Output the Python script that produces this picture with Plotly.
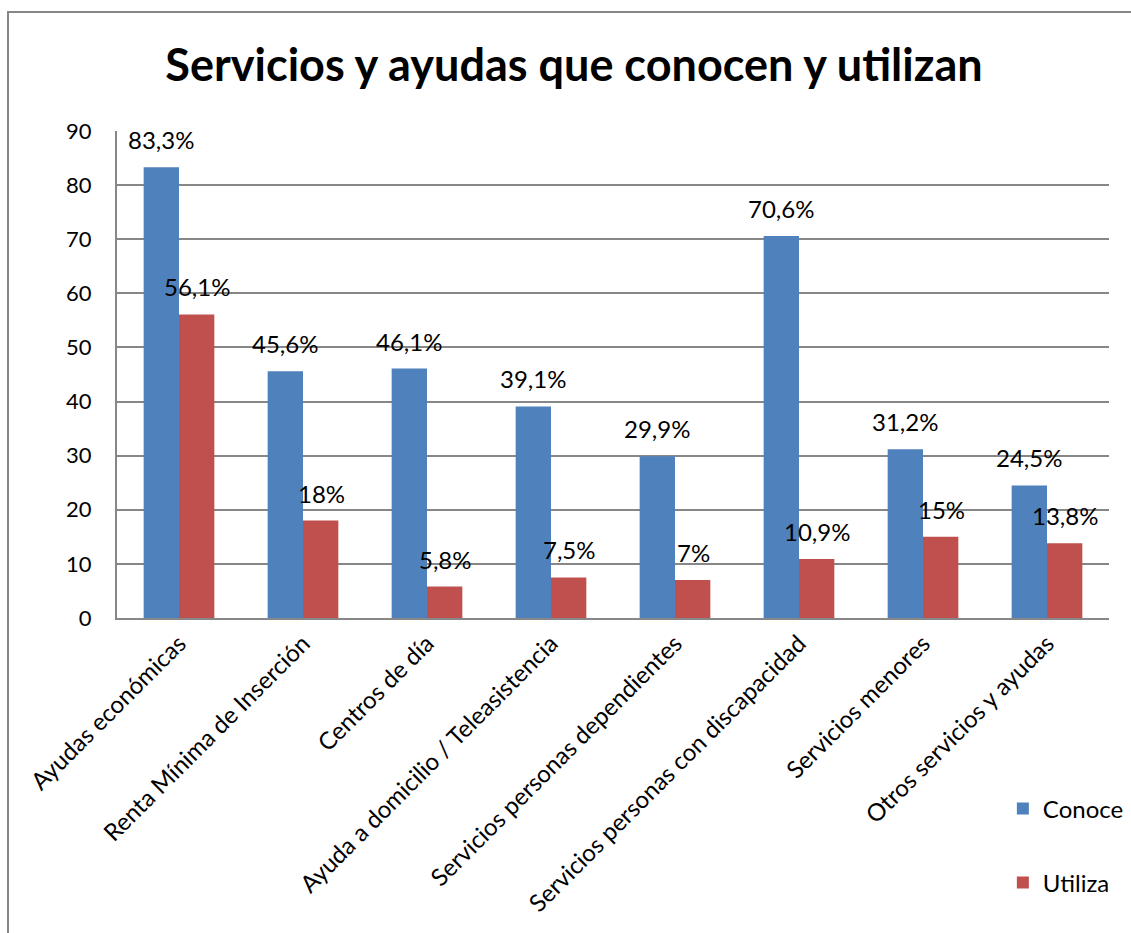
import plotly.graph_objects as go

categories = ["Ayudas económicas", "Renta Mínima de Inserción", "Centros de día",
              "Ayuda a domicilio / Teleasistencia", "Servicios personas dependientes",
              "Servicios personas con discapacidad", "Servicios menores",
              "Otros servicios y ayudas"]
conoce = [83.3, 45.6, 46.1, 39.1, 29.9, 70.6, 31.2, 24.5]
utiliza = [56.1, 18, 5.8, 7.5, 7, 10.9, 15, 13.8]
conoce_labels = ["83,3%", "45,6%", "46,1%", "39,1%", "29,9%", "70,6%", "31,2%", "24,5%"]
utiliza_labels = ["56,1%", "18%", "5,8%", "7,5%", "7%", "10,9%", "15%", "13,8%"]
y_ticks = [0, 10, 20, 30, 40, 50, 60, 70, 80, 90]

FONT = "Lato"
BLUE = "#4F81BD"
RED = "#C0504D"
GRID = "#878787"

fig = go.Figure()
fig.add_trace(go.Bar(x=categories, y=conoce, name="Conoce", marker_color=BLUE,
                     marker_line_width=0, legend="legend", showlegend=True))
fig.add_trace(go.Bar(x=categories, y=utiliza, name="Utiliza", marker_color=RED,
                     marker_line_width=0, legend="legend2", showlegend=True))

annotations = []
for c, v, t in zip(categories, conoce, conoce_labels):
    annotations.append(dict(x=c, y=v, text=t, xref="x", yref="y", showarrow=False,
                            xshift=-18, yshift=11, yanchor="bottom",
                            font=dict(family=FONT, size=24, color="black")))
for c, v, t in zip(categories, utiliza, utiliza_labels):
    annotations.append(dict(x=c, y=v, text=t, xref="x", yref="y", showarrow=False,
                            xshift=18, yshift=11, yanchor="bottom",
                            font=dict(family=FONT, size=24, color="black")))

fig.update_layout(
    width=1131, height=933,
    margin=dict(l=117, r=22, t=131, b=315, autoexpand=False),
    paper_bgcolor="white", plot_bgcolor="white",
    showlegend=True,
    font=dict(family=FONT, size=20, color="black"),
    title=dict(text="<b>Servicios y ayudas que conocen y utilizan</b>",
               x=574 / 1131, xanchor="center", y=1 - 65 / 933, yanchor="middle",
               font=dict(family=FONT, size=45, color="black")),
    barmode="group", bargap=0.43, bargroupgap=0,
    annotations=annotations,
    legend=dict(x=0.893, xanchor="left", y=-0.392, yanchor="middle",
                font=dict(family=FONT, size=24), bgcolor="rgba(0,0,0,0)"),
    legend2=dict(x=0.893, xanchor="left", y=-0.544, yanchor="middle",
                 font=dict(family=FONT, size=24), bgcolor="rgba(0,0,0,0)"),
    xaxis=dict(tickangle=-45, showline=True, linecolor=GRID, linewidth=2,
               showgrid=False, ticks="", tickfont=dict(family=FONT, size=24)),
    yaxis=dict(range=[0, 90], tickvals=y_ticks, showline=True, linecolor=GRID,
               linewidth=2, showgrid=True, gridcolor=GRID, gridwidth=2,
               ticks="", ticklabelstandoff=19, zeroline=False,
               tickfont=dict(family=FONT, size=22)),
    shapes=[dict(type="rect", xref="paper", yref="paper",
                 x0=(8 - 117) / 992, x1=(1145 - 117) / 992,
                 y0=(618 - 945) / 487, y1=(618 - 12) / 487,
                 line=dict(color=GRID, width=2), fillcolor="rgba(0,0,0,0)",
                 layer="below")],
)

fig.write_html("out.html", config={"displayModeBar": False},
               post_script="document.body.style.margin='0';")
